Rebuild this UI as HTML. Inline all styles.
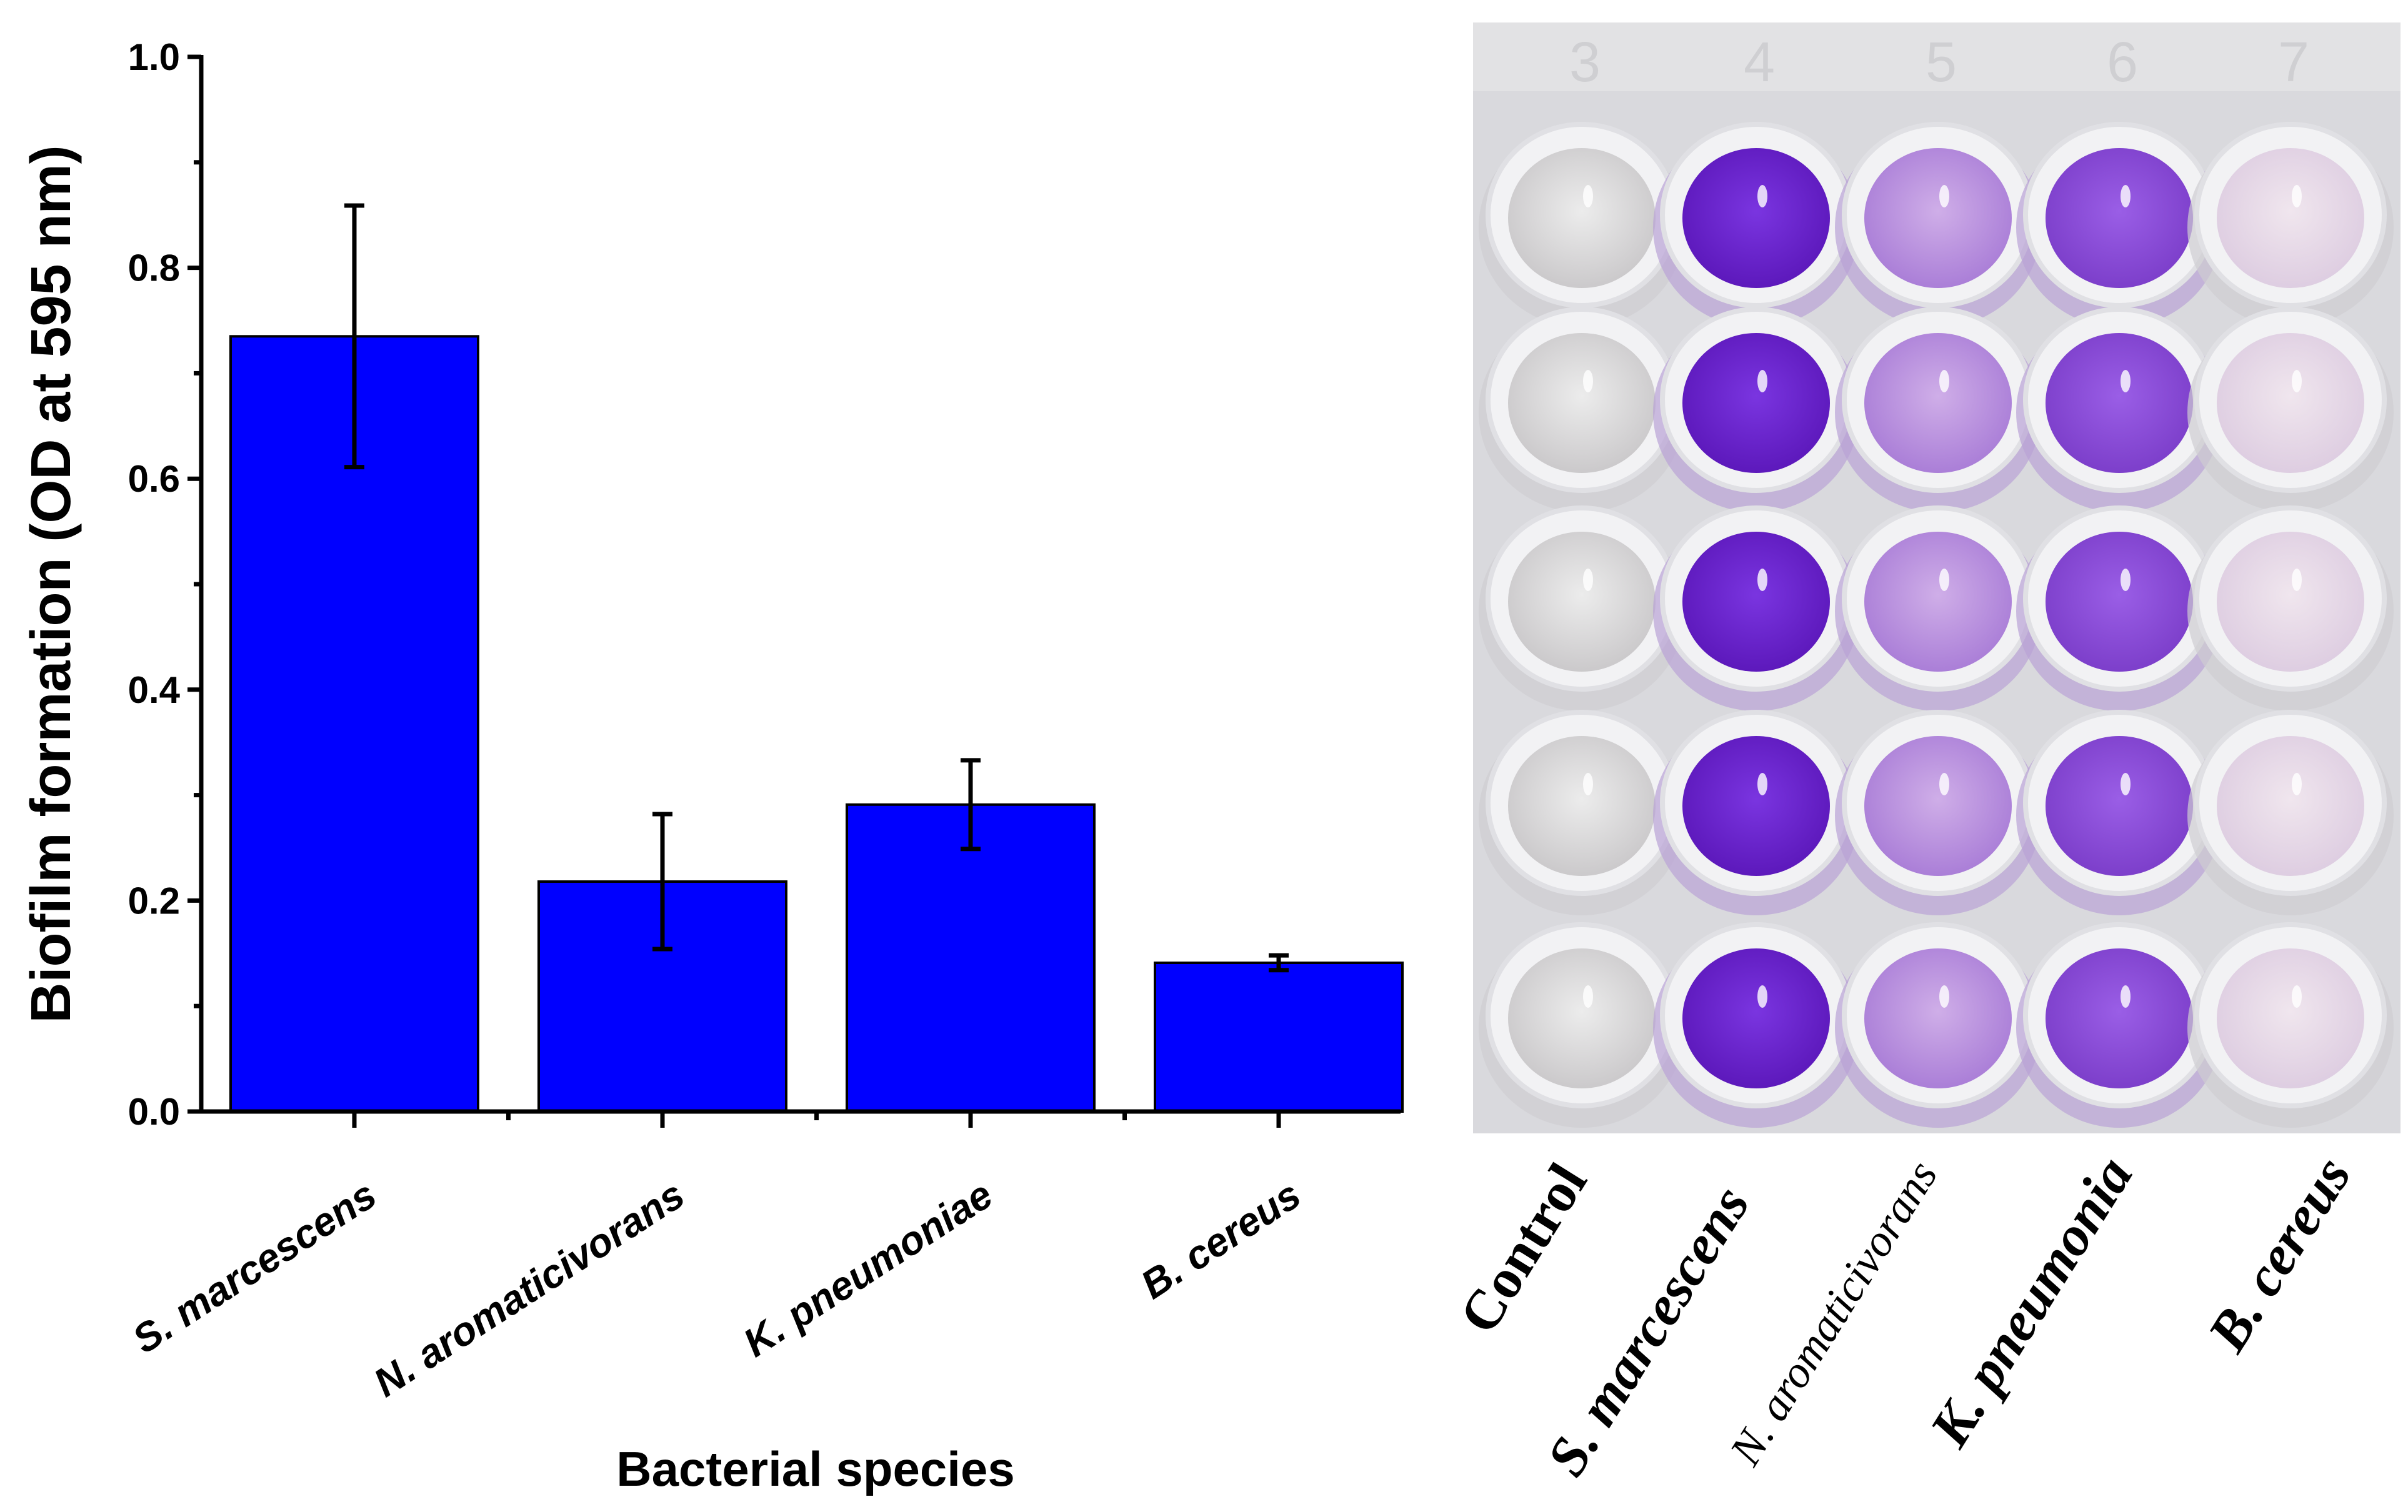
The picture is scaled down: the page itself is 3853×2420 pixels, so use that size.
<!DOCTYPE html>
<html><head><meta charset="utf-8"><style>
html,body{margin:0;padding:0;background:#fff;}
svg{display:block;}
</style></head><body>
<svg id="fig" width="3853" height="2420" viewBox="0 0 3853 2420" xmlns="http://www.w3.org/2000/svg">
<defs>
<radialGradient id="gDark" cx="50%" cy="45%" r="60%"><stop offset="0" stop-color="#7a35e0"/><stop offset="1" stop-color="#5a16b8"/></radialGradient>
<radialGradient id="gMid" cx="50%" cy="45%" r="60%"><stop offset="0" stop-color="#9a5ee6"/><stop offset="1" stop-color="#7a3cc8"/></radialGradient>
<radialGradient id="gLight" cx="50%" cy="45%" r="60%"><stop offset="0" stop-color="#cfaee8"/><stop offset="1" stop-color="#a77ad6"/></radialGradient>
<radialGradient id="gPale" cx="50%" cy="45%" r="60%"><stop offset="0" stop-color="#f0e6ee"/><stop offset="1" stop-color="#dccbe0"/></radialGradient>
<radialGradient id="gClear" cx="50%" cy="45%" r="60%"><stop offset="0" stop-color="#ececec"/><stop offset="1" stop-color="#c8c6c8"/></radialGradient>
</defs>
<g id="chart"></g>
<g id="photo"></g>
</svg>
<script>
const categories = ["S. marcescens", "N. aromaticivorans", "K. pneumoniae", "B. cereus"];
const values = [0.735, 0.218, 0.291, 0.141];
const errors = [0.124, 0.064, 0.042, 0.007];
const yTicks = [0.0, 0.2, 0.4, 0.6, 0.8, 1.0];
const yTickLabels = ["0.0", "0.2", "0.4", "0.6", "0.8", "1.0"];
const plateLabels = ["Control", "S. marcescens", "N. aromaticivorans", "K. pneumonia", "B. cereus"];
const plateFills = ["gClear", "gDark", "gLight", "gMid", "gPale"];

const NS = "http://www.w3.org/2000/svg";
function mk(tag, attrs, parent, text) {
  const e = document.createElementNS(NS, tag);
  for (const k in attrs) e.setAttribute(k, attrs[k]);
  if (text !== undefined) e.textContent = text;
  parent.appendChild(e);
  return e;
}
const chart = document.getElementById("chart");
const X0 = 322, X1 = 2241, Y0 = 1779, Y1 = 91;
const yScale = v => Y0 - (v / 1.0) * (Y0 - Y1);
const band = 493;
const xCenter = i => 567 + band * i;
const barW = 396;

categories.forEach((c, i) => {
  const cx = xCenter(i);
  const r = mk("rect", {x: cx - barW/2, y: yScale(values[i]), width: barW, height: Y0 - yScale(values[i]), fill: "#0000ff", stroke: "#000", "stroke-width": 4}, chart);
  
  
  const g = mk("g", {stroke: "#000", "stroke-width": 7}, chart);
  
  
  const hi = yScale(values[i] + errors[i]), lo = yScale(values[i] - errors[i]);
  mk("line", {x1: cx, x2: cx, y1: hi, y2: lo}, g);
  mk("line", {x1: cx - 16, x2: cx + 16, y1: hi, y2: hi}, g);
  mk("line", {x1: cx - 16, x2: cx + 16, y1: lo, y2: lo}, g);
});

const ax = mk("g", {stroke: "#000", "stroke-width": 7}, chart);


mk("line", {x1: X0, x2: X0, y1: Y1 - 3, y2: Y0 + 3}, ax);
mk("line", {x1: X0 - 3, x2: X1, y1: Y0, y2: Y0}, ax);
yTicks.forEach((t, i) => {
  const y = yScale(t);
  mk("line", {x1: X0 - 22, x2: X0, y1: y, y2: y}, ax);
  if (i < yTicks.length - 1) { const ym = yScale(t + 0.1); mk("line", {x1: X0 - 12, x2: X0, y1: ym, y2: ym}, ax); }
  const tl = mk("text", {x: X0 - 34, y: y + 21, "text-anchor": "end", "font-family": "Liberation Sans, sans-serif", "font-weight": "bold", "font-size": 60, fill: "#000", stroke: "none"}, chart, yTickLabels[i]);
  
  
});
for (let i = 1; i < categories.length; i++) {
  const xb = xCenter(i) - band / 2;
  mk("line", {x1: xb, x2: xb, y1: Y0, y2: Y0 + 14}, ax);
}
categories.forEach((c, i) => {
  const cx = xCenter(i);
  mk("line", {x1: cx, x2: cx, y1: Y0, y2: Y0 + 26}, ax);
  const tx = cx + 40, ty = Y0 + 145;
  const t = mk("text", {x: tx, y: ty, "text-anchor": "end", transform: `rotate(-33 ${tx} ${ty})`, "font-family": "Liberation Sans, sans-serif", "font-weight": "bold", "font-style": "italic", "font-size": 64, fill: "#000"}, chart, c);
  
  
});
const yt = mk("text", {x: 0, y: 0, transform: "translate(112 935) rotate(-90)", "text-anchor": "middle", "font-family": "Liberation Sans, sans-serif", "font-weight": "bold", "font-size": 90, fill: "#000"}, chart, "Biofilm formation (OD at 595 nm)");


const xt = mk("text", {x: 1305, y: 2378, "text-anchor": "middle", "font-family": "Liberation Sans, sans-serif", "font-weight": "bold", "font-size": 78, fill: "#000"}, chart, "Bacterial species");



const photo = document.getElementById("photo");
const bg = mk("rect", {x: 2357, y: 36, width: 1484, height: 1778, fill: "#d9d9dd"}, photo);


mk("rect", {x: 2357, y: 36, width: 1484, height: 110, fill: "#e2e2e4"}, photo);
const colX = [2531, 2810, 3101, 3391, 3665];
const rowY = [344, 640, 958, 1285, 1625];
["3","4","5","6","7"].forEach((n, i) => {
  mk("text", {x: colX[i] - 20, y: 130, "font-family": "Liberation Sans, sans-serif", "font-size": 90, fill: "#cfcfd2"}, photo, n);
});
rowY.forEach((cy, r) => {
  colX.forEach((cx, c) => {
    const g = mk("g", {}, photo);
    
    
    mk("ellipse", {cx: cx, cy: cy + 20, rx: 165, ry: 160, fill: c === 0 || c === 4 ? "#cfcdd2" : "#b9a2d6", opacity: 0.7}, g);
    mk("ellipse", {cx: cx, cy: cy, rx: 150, ry: 145, fill: "#f2f2f4", stroke: "#e0e0e4", "stroke-width": 8}, g);
    mk("ellipse", {cx: cx, cy: cy + 5, rx: 118, ry: 112, fill: `url(#${plateFills[c]})`}, g);
    mk("ellipse", {cx: cx + 10, cy: cy - 30, rx: 8, ry: 18, fill: "#ffffff", opacity: 0.8}, g);
  });
});
const lab = [[2445, 2003, 90, true, false], [2645, 2135, 90, true, true], [2940, 2105, 72, false, true], [3258, 2088, 90, true, true], [3655, 2012, 90, true, true]];
plateLabels.forEach((s, i) => {
  const [x, y, fs, b, it] = lab[i];
  const t = mk("text", {x: x, y: y, "text-anchor": "middle", "dominant-baseline": "middle", transform: `rotate(-58 ${x} ${y})`, "font-family": "Liberation Serif, serif", "font-weight": b ? "bold" : "normal", "font-style": it ? "italic" : "normal", "font-size": fs, fill: "#000"}, photo, s);
  
  
});
</script>
</body></html>
